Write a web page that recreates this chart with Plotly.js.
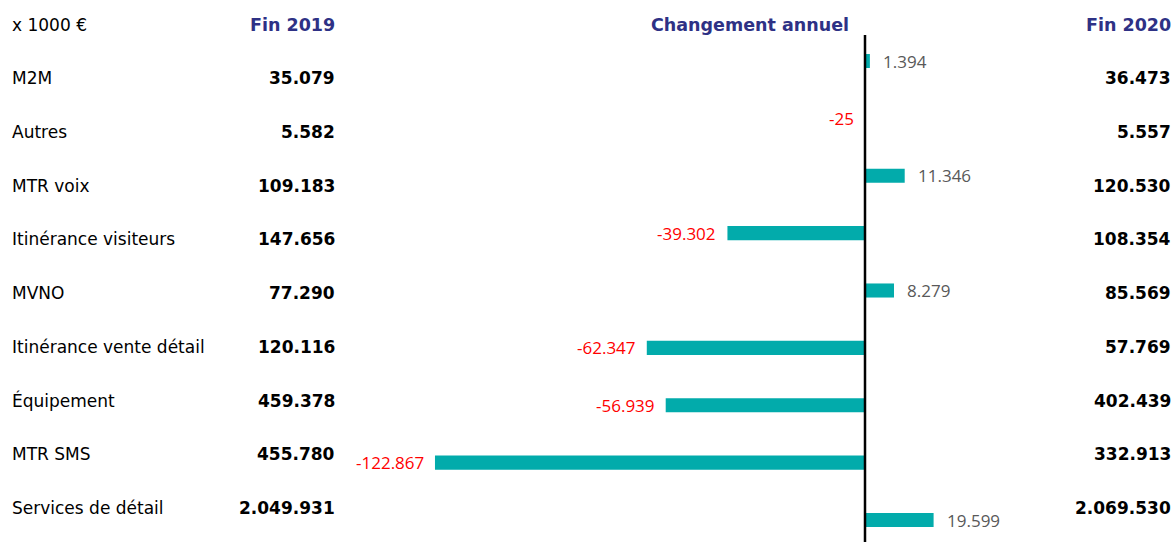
<!DOCTYPE html>
<html><head><meta charset="utf-8">
<script src="https://cdn.plot.ly/plotly-3.0.1.min.js"></script>
<style>html,body{margin:0;padding:0;background:#fff}#chart{width:1175px;height:542px}</style>
</head><body><div id="chart"></div>
<script>
const categories = ["M2M","Autres","MTR voix","Itinérance visiteurs","MVNO","Itinérance vente détail","Équipement","MTR SMS","Services de détail"];
const fin2019 = ["35.079","5.582","109.183","147.656","77.290","120.116","459.378","455.780","2.049.931"];
const fin2020 = ["36.473","5.557","120.530","108.354","85.569","57.769","402.439","332.913","2.069.530"];
const change = [1.394, -0.025, 11.346, -39.302, 8.279, -62.347, -56.939, -122.867, 19.599];
const changeLabels = ["1.394","-25","11.346","-39.302","8.279","-62.347","-56.939","-122.867","19.599"];
const headers = {unit:"x 1000 €", y2019:"Fin 2019", change:"Changement annuel", y2020:"Fin 2020"};

const W = 1175, H = 542;
const zeroPx = 865, pxPerUnit = 3.5;
const xRange = [-zeroPx/pxPerUnit, (W-zeroPx)/pxPerUnit];
const barTop = 61, barStep = 57.375;
const yRange = [(H-barTop)/barStep, -barTop/barStep];
const rowTop = 78, rowStep = 53.75;
const py = p => 1 - p/H;
const px = p => p/W;

const idx = categories.map((_,i)=>i);
const lblFont = {family:"DejaVu Sans", size:17, color:"#000"};
const valFont = {family:"DejaVu Sans", size:17, color:"#000", weight:"bold"};
const hdrFont = {family:"DejaVu Sans", size:17.5, color:"#2E3185", weight:"bold"};

const ann = [];
ann.push({text:headers.unit, x:px(10), y:py(25), xanchor:"left", yanchor:"middle", font:lblFont});
ann.push({text:"<b>"+headers.y2019+"</b>", x:px(337), y:py(25), xanchor:"right", yanchor:"middle", font:hdrFont});
ann.push({text:"<b>"+headers.change+"</b>", x:px(851), y:py(25), xanchor:"right", yanchor:"middle", font:hdrFont});
ann.push({text:"<b>"+headers.y2020+"</b>", x:px(1173), y:py(25), xanchor:"right", yanchor:"middle", font:hdrFont});
idx.forEach(i=>{
  const yy = py(rowTop + i*rowStep);
  ann.push({text:categories[i], x:px(10), y:yy, xanchor:"left", yanchor:"middle", font:lblFont});
  ann.push({text:"<b>"+fin2019[i]+"</b>", x:px(337), y:yy, xanchor:"right", yanchor:"middle", font:valFont});
  ann.push({text:"<b>"+fin2020[i]+"</b>", x:px(1173), y:yy, xanchor:"right", yanchor:"middle", font:valFont});
  const neg = change[i] < 0;
  ann.push({text:changeLabels[i], xref:"x", yref:"y", x:change[i], y:i,
    xanchor: neg?"right":"left", yanchor:"middle", xshift: neg?-9:11,
    font:{family:"Open Sans, Noto Sans", size:17, color: neg?"#FF0000":"#595959"}});
});
ann.forEach(a=>{ if(!a.xref){a.xref="paper"; a.yref="paper";} a.showarrow=false; });

const trace = {type:"bar", orientation:"h", x:change, y:idx, width:0.245,
  marker:{color:"#02ABAB", line:{width:0}}, hoverinfo:"none"};

const layout = {
  width:W, height:H, margin:{l:0,r:0,t:0,b:0},
  paper_bgcolor:"#fff", plot_bgcolor:"#fff", showlegend:false,
  xaxis:{range:xRange, visible:false, fixedrange:true},
  yaxis:{range:yRange, visible:false, fixedrange:true},
  annotations:ann,
  shapes:[{type:"line", xref:"x", yref:"paper", x0:0, x1:0, y0:0, y1:py(35), line:{color:"#000", width:2.5}, layer:"above"}]
};
Plotly.newPlot("chart",[trace],layout,{displayModeBar:false,staticPlot:true});
</script></body></html>
